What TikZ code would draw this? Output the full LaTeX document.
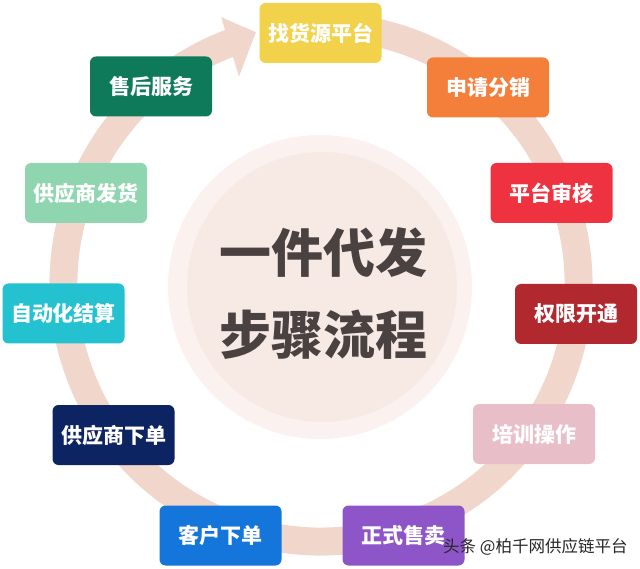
\documentclass[tikz,border=0pt]{standalone}
\usepackage{fontspec}
\setmainfont{Noto Sans CJK SC}

\definecolor{ringpink}{HTML}{F1D6CB}
\definecolor{halo}{HTML}{FBF2EF}
\definecolor{disc}{HTML}{F7E9E4}
\definecolor{titlegray}{HTML}{4A4241}
\definecolor{cyellow}{HTML}{F2D14B}
\definecolor{corange}{HTML}{F47F3B}
\definecolor{cred}{HTML}{EF3240}
\definecolor{cdarkred}{HTML}{B1282F}
\definecolor{cpink}{HTML}{E8BFC8}
\definecolor{cpurple}{HTML}{8E55C8}
\definecolor{cblue}{HTML}{1476DB}
\definecolor{cnavy}{HTML}{0D2463}
\definecolor{ccyan}{HTML}{24C1D0}
\definecolor{cmint}{HTML}{8FD6B0}
\definecolor{cgreen}{HTML}{0E7A5A}

\begin{document}
\begin{tikzpicture}[x = 1pt, y = -1pt,
    stepbox/.style = {rounded corners = 6pt, minimum width = 122pt, minimum height = 60pt,
        inner sep = 0pt, text = white, font = \fontsize{21}{21}\selectfont\bfseries},
    ring/.style = {line width = 28pt, draw = ringpink}]
    \useasboundingbox (0, 0) rectangle (640, 569);

    % ring with arrow head
    \coordinate (ringc) at (321, 284);
    \draw [ring] ([shift = {(110:257.5pt)}] ringc) arc [start angle = 110, end angle = 455, radius = 257.5pt];
    \fill [ringpink] ([shift = {(110.5:285pt)}] ringc) -- ([shift = {(104.5:260pt)}] ringc) -- ([shift = {(111.6:223pt)}] ringc) -- cycle;

    % centre disc
    \fill [halo] (320, 287) circle (152pt);
    \fill [disc] (322, 287) circle (135pt);
    \node (title) [text = titlegray, align = center, font = \fontsize{52}{82}\selectfont\bfseries] at (323, 294) {一件代发\\步骤流程};

    %%%%%%%%%%%%%%%%%%%%
    \node (find)    [stepbox, fill = cyellow]  at (320.5, 33)    {找货源平台};
    \node (apply)   [stepbox, fill = corange]  at (488, 87.5)    {申请分销};
    \node (audit)   [stepbox, fill = cred]     at (551.5, 193)   {平台审核};
    \node (grant)   [stepbox, fill = cdarkred] at (576, 314)     {权限开通};
    \node (train)   [stepbox, fill = cpink]    at (534, 434)     {培训操作};
    \node (sell)    [stepbox, fill = cpurple]  at (403.5, 535.5) {正式售卖};
    \node (order)   [stepbox, fill = cblue]    at (220.5, 535.5) {客户下单};
    \node (supord)  [stepbox, fill = cnavy]    at (113.5, 435)   {供应商下单};
    \node (settle)  [stepbox, fill = ccyan]    at (63.5, 313.5)  {自动化结算};
    \node (ship)    [stepbox, fill = cmint]    at (86, 193)      {供应商发货};
    \node (service) [stepbox, fill = cgreen]   at (151, 86.5)    {售后服务};

    \node (mark) [text = black!85, font = \fontsize{16.5}{16.5}\selectfont, anchor = west, inner sep = 0pt] at (443, 547) {头条 @柏千网供应链平台};
\end{tikzpicture}
\end{document}
